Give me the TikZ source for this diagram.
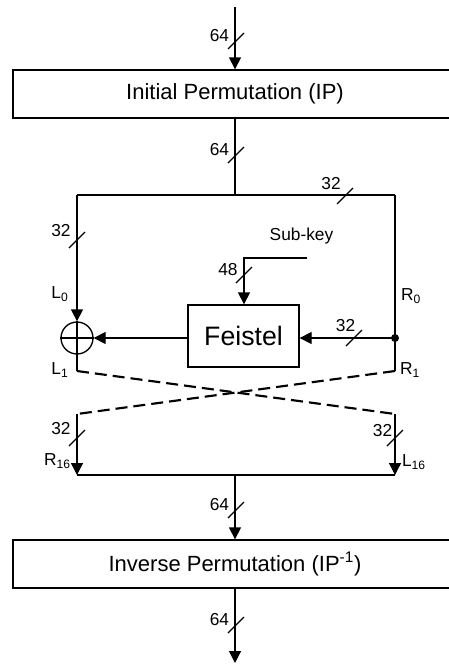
\documentclass[tikz,border=0pt]{standalone}
\usepackage{fontspec}
\setmainfont{Liberation Sans}
\usetikzlibrary{arrows.meta,calc}
\begin{document}
\begin{tikzpicture}[x=0.75pt,y=-0.75pt,line width=1pt,
  arr/.style={-{Triangle[length=9pt,width=9pt]}},
  box/.style={draw,minimum height=36pt,inner sep=0pt},
  lbl/.style={font=\fontsize{13}{15}\selectfont,inner sep=0pt},
  busmark/.style={line width=0.9pt},
  swap/.style={line width=1.6pt,dash pattern=on 9pt off 4.5pt},
  bigtxt/.style={font=\fontsize{16.5}{19}\selectfont}]
\useasboundingbox (0,0) rectangle (449,664);
\clip (0,0) rectangle (449,664);
% nodes
\node[box,minimum width=333pt,bigtxt] (ip) at (235,94) {Initial Permutation (IP)};
\node[box,minimum width=83.25pt,minimum height=46.5pt,font=\fontsize{20}{24}\selectfont] (feistel) at (243.5,336) {Feistel};
\node[draw,circle,minimum size=24pt,inner sep=0pt] (xor) at (77,338) {};
\draw (xor.north) -- (xor.south) (xor.west) -- (xor.east);
\node[box,minimum width=333pt,bigtxt] (iip) at (235,564) {Inverse Permutation (IP\textsuperscript{-1})};
% coordinates
\coordinate (in) at (235,7);
\coordinate (split) at (235,195);
\coordinate (tl) at (77,195);
\coordinate (tr) at (395,195);
\coordinate (dot) at (395,338);
\coordinate (L1) at (77,371);
\coordinate (R1) at (395,371);
\coordinate (xl) at (77,414);
\coordinate (xr) at (395,414);
\coordinate (bl) at (77,475);
\coordinate (br) at (395,475);
\coordinate (join) at (235,475);
\coordinate (out) at (235,663);
\coordinate (skey) at (307,258);
\coordinate (skc) at (244,258);
% connectors
\draw[arr] (in) -- (ip.north);
\draw (ip.south) -- (split);
\draw (tl) -- (tr);
\draw[arr] (tl) -- (xor.north);
\draw (tr) -- (R1);
\fill (dot) circle (3pt);
\draw[arr] (dot) -- (xor.east -| feistel.east);
\draw[arr] (feistel.west |- xor.east) -- (xor.east);
\draw[arr] (skey) -- (skc) -- (skc |- feistel.north);
\draw (xor.south) -- (L1);
\draw[swap] (L1) -- (xr);
\draw[swap] (R1) -- (xl);
\draw[arr] (xl) -- (bl);
\draw[arr] (xr) -- (br);
\draw (bl) -- (br);
\draw[arr] (join) -- (iip.north);
\draw[arr] (iip.south) -- (out);
% bus width marks
\foreach \p in {(236,41),(236,155),(345,196),(77,240),(244,275),(354,338),(77,438),(395,438),(236,510),(236,625)}
  \draw[busmark] \p +(-8,8) -- +(8,-8);
% labels
\node[lbl] (n1) at (219.5,35.5) {64};
\node[lbl] (n2) at (219.5,149.5) {64};
\node[lbl] (n3) at (331,184) {32};
\node[lbl] (n4) at (61,231) {32};
\node[lbl] (sk) at (301.5,236) {Sub-key};
\node[lbl] (n5) at (228,269.5) {48};
\node[lbl] (l0) at (60,294) {L\textsubscript{0}};
\node[lbl] (r0) at (411,296) {R\textsubscript{0}};
\node[lbl] (n6) at (345.5,325.5) {32};
\node[lbl] (l1) at (60,370) {L\textsubscript{1}};
\node[lbl] (r1) at (410,370) {R\textsubscript{1}};
\node[lbl] (n7) at (61,428.5) {32};
\node[lbl] (r16) at (57.5,461) {R\textsubscript{16}};
\node[lbl] (n8) at (382.5,431) {32};
\node[lbl] (l16) at (414,462) {L\textsubscript{16}};
\node[lbl] (n9) at (219.5,505) {64};
\node[lbl] (n10) at (219.5,619.5) {64};
\end{tikzpicture}
\end{document}
